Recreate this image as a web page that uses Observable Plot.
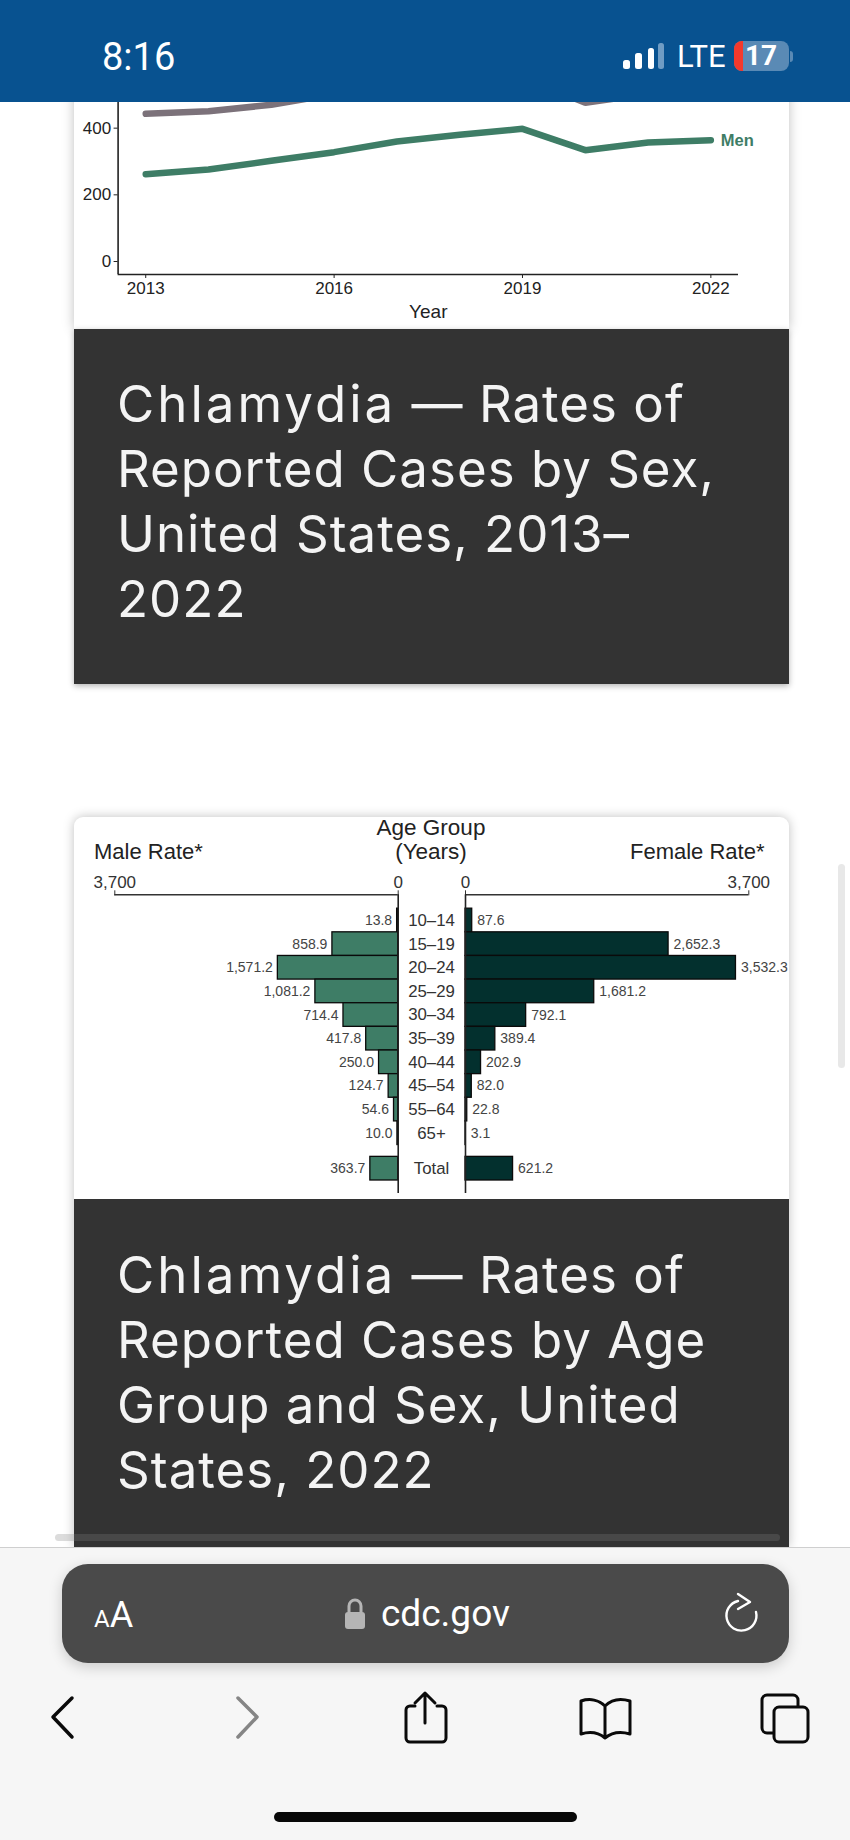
<!DOCTYPE html>
<html><head><meta charset="utf-8">
<script src="https://cdn.jsdelivr.net/npm/d3@7"></script>
<script src="https://cdn.jsdelivr.net/npm/@observablehq/plot@0.6"></script>
<style>
html,body{margin:0;padding:0;background:#fff;width:850px;height:1840px;overflow:hidden;font-family:"Liberation Sans",Arial,sans-serif}
.abs{position:absolute}
.card{position:absolute;left:74px;width:715px;background:#fff;box-shadow:0 0 11px rgba(0,0,0,.25)}
.panel{position:absolute;left:74px;width:715px;background:#333}
.ttl{position:absolute;left:117px;color:#f4f4f4;font-family:Inter,"Open Sans",sans-serif;font-size:51px;line-height:65px;font-weight:400;white-space:nowrap;letter-spacing:1px}
.ttl span{letter-spacing:3px}
.lbl{position:absolute;color:#222;font-size:22.5px;line-height:24px;white-space:nowrap}
svg text{font-family:"Liberation Sans",Arial,sans-serif}
</style></head><body>
<div class="card" style="top:0;height:329px"></div>
<div id="trend" class="abs" style="left:0;top:0"></div>
<div class="panel" style="top:329px;height:355px;box-shadow:0 2px 6px rgba(0,0,0,.3)"></div>
<div class="ttl" style="top:371px"><span>Chlamydia</span> — Rates of<br>Reported Cases by Sex,<br>United States, 2013–<br>2022</div>

<div class="card" style="top:817px;height:730px;border-radius:9px 9px 0 0"></div>
<div id="male" class="abs" style="left:0;top:817px"></div>
<div id="female" class="abs" style="left:465px;top:817px"></div>
<div class="lbl" style="left:94px;top:840px;font-size:22px">Male Rate*</div>
<div class="lbl" style="left:630px;top:840px;font-size:22px">Female Rate*</div>
<div class="lbl" style="left:331px;width:200px;text-align:center;top:816px">Age Group<br>(Years)</div>
<div class="panel" style="top:1199px;height:348px"></div>
<div class="ttl" style="top:1242px"><span>Chlamydia</span> — Rates of<br>Reported Cases by Age<br>Group and Sex, United<br>States, 2022</div>

<div class="abs" style="left:838px;top:864px;width:7px;height:204px;border-radius:4px;background:#e8e8e8"></div>
<div class="abs" style="left:55px;top:1534px;width:725px;height:7px;border-radius:4px;background:rgba(130,130,130,.28)"></div>

<div class="abs" style="left:0;top:0;width:850px;height:102px;background:#085290"></div>
<div class="abs" style="left:102px;top:33px;color:#fff;font:400 38px/48px Roboto,sans-serif">8:16</div>
<svg class="abs" style="left:620px;top:38px" width="48" height="36">
<rect x="3" y="22" width="7" height="9" rx="2.5" fill="#fff"/><rect x="15" y="15" width="7" height="16" rx="2.5" fill="#fff"/><rect x="28" y="10" width="6" height="21" rx="2.5" fill="#fff"/><rect x="38" y="5" width="6" height="26" rx="2.5" fill="#6f9cc4"/>
</svg>
<div class="abs" style="left:677px;top:36px;color:#fff;font:400 31px/42px Roboto,sans-serif">LTE</div>
<div class="abs" style="left:734px;top:41px;width:55px;height:30px;border-radius:8px;background:#5a8ab5;overflow:hidden"><div style="width:9px;height:30px;background:#f4392c"></div></div>
<div class="abs" style="left:745px;top:36px;color:#fff;font:700 28px/40px Roboto,sans-serif">17</div>
<div class="abs" style="left:790px;top:51px;width:3px;height:11px;border-radius:0 3px 3px 0;background:#5a8ab5"></div>

<div class="abs" style="left:0;top:1547px;width:850px;height:293px;background:#f6f6f6;border-top:1px solid #cfcfcf"></div>
<div class="abs" style="left:62px;top:1564px;width:727px;height:99px;border-radius:26px;background:#4a4a4a;box-shadow:0 4px 14px rgba(0,0,0,.18)"></div>
<div class="abs" style="left:94px;top:1592px;color:#fff;font-family:Roboto,sans-serif;line-height:46px"><span style="font-size:24px">A</span><span style="font-size:36px">A</span></div>
<div class="abs" style="left:381px;top:1590px;color:#fff;font:400 37px/48px Roboto,sans-serif">cdc.gov</div>
<svg class="abs" style="left:0;top:1560px" width="850" height="280" fill="none" stroke-linecap="round" stroke-linejoin="round">
<rect x="345" y="52" width="20" height="17" rx="3" fill="#b5b5b5"/><path d="M349 52v-6a6 6 0 0 1 12 0v6" stroke="#b5b5b5" stroke-width="3"/>
<path d="M738 41A15 15 0 1 0 756 52" stroke="#fff" stroke-width="2.4"/><path d="M738 34L750 42L738 49" stroke="#fff" stroke-width="2.4"/>
<path d="M72 138L53 157l19 20" stroke="#0a0a0a" stroke-width="3.5"/>
<path d="M238 138l19 19-19 20" stroke="#858585" stroke-width="3.5"/>
<path d="M415 146h-5a4 4 0 0 0-4 4v28a4 4 0 0 0 4 4h32a4 4 0 0 0 4-4v-28a4 4 0 0 0-4-4h-5" stroke="#0a0a0a" stroke-width="3"/><path d="M425 163v-30M415 143l10-10 10 10" stroke="#0a0a0a" stroke-width="3"/>
<path d="M605 178c-6-5-14-7-24-4v-33c9-3 18-1 24 5 6-6 15-8 25-5v33c-10-3-19-1-25 4zM605 146v32" stroke="#0a0a0a" stroke-width="3"/>
<rect x="762" y="135" width="36" height="38" rx="5" stroke="#0a0a0a" stroke-width="3"/><rect x="774" y="147" width="34" height="35" rx="5" fill="#f6f6f6" stroke="#0a0a0a" stroke-width="3"/>
</svg>
<div class="abs" style="left:274px;top:1812px;width:303px;height:10px;border-radius:5px;background:#080808"></div>

<script>
const years = [2013, 2014, 2015, 2016, 2017, 2018, 2019, 2020, 2021, 2022];
const menRates = [262, 276, 302, 328, 360, 380, 398, 334, 357, 363.7];
const overallRates = [443, 451, 470, 502, 525, 540, 552, 476, 503, 495];
const yearTicks = [2013, 2016, 2019, 2022];
const rateTicks = [0, 200, 400];
const ages = ["10–14","15–19","20–24","25–29","30–34","35–39","40–44","45–54","55–64","65+","Total"];
const maleRates = [13.8, 858.9, 1571.2, 1081.2, 714.4, 417.8, 250.0, 124.7, 54.6, 10.0, 363.7];
const femaleRates = [87.6, 2652.3, 3532.3, 1681.2, 792.1, 389.4, 202.9, 82.0, 22.8, 3.1, 621.2];
const maxRate = 3700;

const GREEN = "#3e7d66", GREY = "#7c727a", DARK = "#03302e", INK = "#222";
const fmt = d3.format(",.1f");
const intFmt = d3.format(",");
const slot = a => ages.indexOf(a) + (a === "Total" ? 0.5 : 0);
const men = years.map((y, i) => ({y, v: menRates[i]}));
const overall = years.map((y, i) => ({y, v: overallRates[i]}));
const rows = (vals) => ages.map((a, i) => ({a, v: vals[i], s: slot(a)}));

document.getElementById("trend").append(Plot.plot({
  width: 850, height: 340, marginLeft: 117.6, marginRight: 112, marginTop: 27.67, marginBottom: 66,
  style: {background: "transparent", overflow: "visible"},
  x: {domain: [2012.56, 2022.44]},
  y: {domain: [-39, 700]},
  marks: [
    Plot.lineY(overall, {x: "y", y: "v", stroke: GREY, strokeWidth: 6.5, strokeLinejoin: "miter"}),
    Plot.lineY(men, {x: "y", y: "v", stroke: GREEN, strokeWidth: 6.5, strokeLinejoin: "miter"}),
    Plot.text(men.slice(-1), {x: "y", y: "v", text: () => "Men", dx: 10, textAnchor: "start", fill: GREEN, fontWeight: "bold", fontSize: 16.5}),
    Plot.axisY({ticks: rateTicks, tickSize: 4, tickPadding: 3, fontSize: 17, color: INK, label: null}),
    Plot.axisX({ticks: yearTicks, tickFormat: d => String(d), tickSize: 4, tickPadding: 3, fontSize: 17, color: INK, label: null}),
    Plot.text(["Year"], {x: 2017.5, frameAnchor: "bottom", dy: 43, fontSize: 19, fill: INK}),
    Plot.ruleX([2012.56], {stroke: INK, strokeWidth: 1.6}),
    Plot.ruleY([-39], {stroke: INK, strokeWidth: 1.6})
  ]
}));

function side(vals, opts) {
  return Plot.plot({
    width: opts.width, height: 382, marginLeft: opts.left, marginRight: opts.right, marginTop: 77.3, marginBottom: 6,
    style: {background: "transparent", overflow: "visible"},
    x: {domain: [0, maxRate], reverse: opts.reverse},
    y: {domain: [-1.087, 11.55], reverse: true, axis: null},
    marks: [
      Plot.rectX(rows(vals), {x: "v", y1: d => d.s - 0.5, y2: d => d.s + 0.5, fill: opts.fill, stroke: "#0a0a0a", strokeWidth: 1.3}),
      Plot.text(rows(vals), {x: "v", y: "s", text: d => fmt(d.v), dx: opts.dx, textAnchor: opts.anchor, fontSize: 14, fill: "#444"}),
      Plot.axisX({anchor: "top", ticks: [0, maxRate], tickFormat: intFmt, tickSize: 5, tickPadding: 2, fontSize: 17, color: "#333", label: null}),
      Plot.ruleY([-1.087], {x1: 0, x2: maxRate, stroke: "#333", strokeWidth: 1.5}),
      Plot.ruleX([0], {stroke: INK, strokeWidth: 1.6}),
      ...(opts.extra || [])
    ]
  });
}
document.getElementById("male").append(side(maleRates, {
  width: 465, left: 114.3, right: 67.3, reverse: true, fill: GREEN, dx: -5, anchor: "end",
  extra: [Plot.text(rows(maleRates), {x: 0, y: "s", text: "a", dx: 33.3, fontSize: 16.8, fill: "#333"})]
}));
document.getElementById("female").append(side(femaleRates, {
  width: 385, left: 0, right: 101.7, reverse: false, fill: DARK, dx: 5, anchor: "start"
}));
</script>
</body></html>
